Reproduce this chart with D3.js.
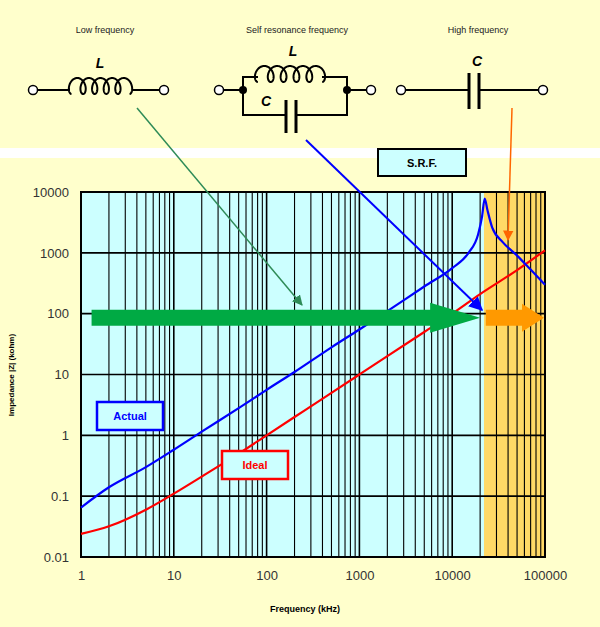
<!DOCTYPE html><html><head><meta charset="utf-8">
<script src="https://cdn.jsdelivr.net/npm/d3@7"></script>
<style>body{margin:0;background:#fff}text{font-family:"Liberation Sans",Arial,sans-serif}</style></head><body>
<svg id="c" width="600" height="627"></svg>
<script>
const actualF=[1,2,5,10,20,50,100,200,500,1000,2000,5000,10000,15000,19000,21000,22400,24000,27000,35000,50000,70000,100000];
const actualZ=[0.065,0.14,0.3,0.58,1.15,2.8,5.6,11,28,55,110,280,560,1000,2000,4000,7800,5000,2600,1500,900,530,300];
const idealF=[1,2,5,10,20,50,100,200,500,1000,2000,5000,10000,20000,50000,100000];
const idealZ=[0.024,0.032,0.06,0.11,0.21,0.5,1,2,5,10,20,50,100,210,520,1100];
const xTicks=[1,10,100,1000,10000,100000];
const yTicks=[0.01,0.1,1,10,100,1000,10000];
const srf=22000;

const svg=d3.select("#c");
svg.append("rect").attr("width",600).attr("height",627).attr("fill","#FFFFCC");
svg.append("rect").attr("y",148).attr("width",600).attr("height",10).attr("fill","#fff");
const x=d3.scaleLog().domain([1,100000]).range([81,545]);
const y=d3.scaleLog().domain([0.01,10000]).range([557,192]);
const g=svg.append("g");
g.append("rect").attr("x",x(1)).attr("y",y(10000)).attr("width",x(100000)-x(1)).attr("height",y(0.01)-y(10000)).attr("fill","#CCFFFF");
g.append("rect").attr("x",x(srf)).attr("y",y(10000)).attr("width",x(100000)-x(srf)).attr("height",y(0.01)-y(10000)).attr("fill","#FFD966");
const minor=[];for(let d=1;d<100000;d*=10)for(let k=1;k<=9;k++)minor.push(d*k);minor.push(100000);
g.selectAll(".v").data(minor).join("line").attr("x1",d=>x(d)).attr("x2",d=>x(d)).attr("y1",y(10000)).attr("y2",y(0.01)).attr("stroke","#000").attr("stroke-width",d=>xTicks.includes(d)?1.6:1.1);
g.selectAll(".h").data(yTicks).join("line").attr("x1",x(1)).attr("x2",x(100000)).attr("y1",d=>y(d)).attr("y2",d=>y(d)).attr("stroke","#000").attr("stroke-width",1.6);
g.append("rect").attr("x",x(1)).attr("y",y(10000)).attr("width",x(100000)-x(1)).attr("height",y(0.01)-y(10000)).attr("fill","none").attr("stroke","#000").attr("stroke-width",2);
g.append("g").attr("transform",`translate(0,${y(0.01)})`).call(d3.axisBottom(x).tickValues(xTicks).tickFormat(d3.format("d")).tickSize(0).tickPadding(14)).call(a=>{a.select(".domain").remove();a.selectAll("text").attr("font-size",13).attr("fill","#333");});
g.append("g").attr("transform",`translate(${x(1)},0)`).call(d3.axisLeft(y).tickValues(yTicks).tickFormat(d=>String(d)).tickSize(0).tickPadding(12)).call(a=>{a.select(".domain").remove();a.selectAll("text").attr("font-size",13).attr("fill","#333");});
svg.append("text").attr("x",305).attr("y",612).attr("text-anchor","middle").attr("font-size",9).attr("font-weight","bold").text("Frequency (kHz)");
svg.append("text").attr("transform","translate(14,375) rotate(-90)").attr("text-anchor","middle").attr("font-size",8).attr("font-weight","bold").text("Impedance |Z| (kohm)");
const ln=d3.line().x(d=>x(d[0])).y(d=>y(d[1])).curve(d3.curveMonotoneX);
g.append("path").attr("d",ln(idealF.map((f,i)=>[f,idealZ[i]]))).attr("fill","none").attr("stroke","#FF0000").attr("stroke-width",2.2);
g.append("path").attr("d",ln(actualF.map((f,i)=>[f,actualZ[i]]))).attr("fill","none").attr("stroke","#0000FF").attr("stroke-width",2.2);
// big arrows
function bigArrow(x0,x1,yc,col,h,hw,hl){svg.append("path").attr("d",`M${x0},${yc-h/2}L${x1-hl},${yc-h/2}L${x1-hl},${yc-hw/2}L${x1},${yc}L${x1-hl},${yc+hw/2}L${x1-hl},${yc+h/2}L${x0},${yc+h/2}Z`).attr("fill",col);}
bigArrow(x(1.3),x(20000),y(100)+4,"#00AA44",16,30,50);
bigArrow(x(23000),x(100000)-1,y(100)+4,"#FF9900",16,28,22);
// legend boxes
function lbox(x0,y0,w,h,c,t){svg.append("rect").attr("x",x0).attr("y",y0).attr("width",w).attr("height",h).attr("fill","#CCFFFF").attr("stroke",c).attr("stroke-width",2.5);svg.append("text").attr("x",x0+w/2).attr("y",y0+h/2+4).attr("text-anchor","middle").attr("font-size",11).attr("font-weight","bold").attr("fill",c).text(t);}
lbox(97,402,66,28,"#0000FF","Actual");lbox(222,451,66,28,"#FF0000","Ideal");
svg.append("rect").attr("x",378).attr("y",149).attr("width",88).attr("height",27).attr("fill","#CCFFFF").attr("stroke","#000").attr("stroke-width",2);
svg.append("text").attr("x",422).attr("y",167).attr("text-anchor","middle").attr("font-size",11).attr("font-weight","bold").text("S.R.F.");
// pointer lines
const defs=svg.append("defs");
function mk(id,c){defs.append("marker").attr("id",id).attr("viewBox","0 0 10 10").attr("refX",9).attr("refY",5).attr("markerWidth",7).attr("markerHeight",7).attr("orient","auto").append("path").attr("d","M0,0L10,5L0,10Z").attr("fill",c);}
mk("mg","#2E8B57");mk("mb","#0000FF");mk("mo","#FF6600");
svg.append("line").attr("x1",137).attr("y1",108).attr("x2",302).attr("y2",305).attr("stroke","#2E8B57").attr("stroke-width",1.5).attr("marker-end","url(#mg)");
svg.append("line").attr("x1",306).attr("y1",140).attr("x2",482).attr("y2",310).attr("stroke","#0000FF").attr("stroke-width",2).attr("marker-end","url(#mb)");
svg.append("line").attr("x1",512).attr("y1",108).attr("x2",508).attr("y2",240).attr("stroke","#FF6600").attr("stroke-width",1.5).attr("marker-end","url(#mo)");
// circuits
const st=svg.append("g").attr("stroke","#000").attr("stroke-width",2).attr("fill","none");
function term(cx,cy){st.append("circle").attr("cx",cx).attr("cy",cy).attr("r",4.5).attr("fill","#fff").attr("stroke-width",1.5);}
function coil(x0,x1,yb){const n=5,p=(x1-x0)/(n+0.6),pts=[];for(let t=0;t<=n*2*Math.PI;t+=0.1){pts.push([x0+p*0.3+p*t/(2*Math.PI)-p*0.45*Math.sin(t)+0,yb-9*(1-Math.cos(t))/2-3*Math.sin(t/2)*0]);}
 const pts2=[];for(let t=0;t<=n*2*Math.PI+0.01;t+=0.1){pts2.push([x0+p*0.3+p*t/(2*Math.PI)+p*0.45*Math.sin(t)*-1,yb-6-8*Math.cos(t+Math.PI)]);}
 st.append("path").attr("d",d3.line()(pts2));}
function cap(cx,y0,y1,gap){st.append("line").attr("x1",cx-gap/2).attr("x2",cx-gap/2).attr("y1",y0).attr("y2",y1).attr("stroke-width",3);st.append("line").attr("x1",cx+gap/2).attr("x2",cx+gap/2).attr("y1",y0).attr("y2",y1).attr("stroke-width",3);}
function lbl(t,xx,yy){svg.append("text").attr("x",xx).attr("y",yy).attr("text-anchor","middle").attr("font-size",14).attr("font-weight","bold").attr("font-style","italic").text(t);}
function title(t,xx){svg.append("text").attr("x",xx).attr("y",33).attr("text-anchor","middle").attr("font-size",9).attr("fill","#222").text(t);}
title("Low frequency",105);title("Self resonance frequency",297);title("High frequency",478);
// circuit 1
st.append("path").attr("d","M37,90H70M133,90H160");coil(68,133,92);term(33,90);term(164,90);lbl("L",100,68);
// circuit 2
st.append("path").attr("d","M224,90H243V77H258M322,77H347V90H367M243,90V115H286M296,115H347V90");coil(254,326,80);
cap(291,100,133,10);term(219,90);term(371,90);
st.append("circle").attr("cx",243).attr("cy",90).attr("r",3).attr("fill","#000");st.append("circle").attr("cx",347).attr("cy",90).attr("r",3).attr("fill","#000");
lbl("L",293,56);lbl("C",266,106);
// circuit 3
st.append("path").attr("d","M405,90H469M479,90H539");cap(474,73,109,10);term(401,90);term(543,90);lbl("C",477,66);
</script></body></html>
